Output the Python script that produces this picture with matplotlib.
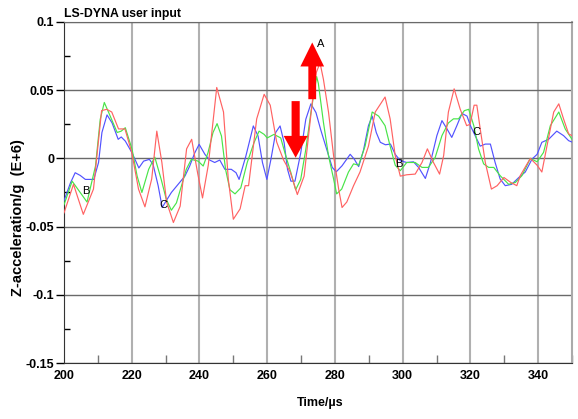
import matplotlib
matplotlib.use("Agg")
import matplotlib.pyplot as plt
from matplotlib.patches import FancyArrow
from matplotlib.ticker import MultipleLocator
import numpy as np

plt.rcParams['font.family'] = ['Liberation Sans Narrow', 'Liberation Sans', 'DejaVu Sans']

# ---- data ----
red_t = [200, 202.8, 205.7, 208.7, 211.1, 212.6, 214.1, 216.1, 218, 220,
         222, 223.9, 225.9, 227.4, 228.9, 230.3, 232.3, 234.3, 236.2, 237.7,
         239.4, 240.9, 242.6, 245.1, 247.1, 248.5, 250, 252, 253.5, 254.5,
         256.9, 259.1, 260.9, 262.8, 264.8, 266.8, 268.9, 270.9, 272.4, 273.4,
         274.5, 275.6, 276.6, 278.1, 279.6, 281.1, 282.1, 283.5, 285.5, 287.4,
         289.9, 291.9, 294.8, 296.3, 297.8, 299.3, 301.2, 303.7, 305.7, 307.3,
         309.1, 310.9, 312.1, 313.5, 315.2, 317, 318.9, 319.9, 321.1, 321.9,
         322.9, 324.4, 326.2, 327.9, 329.9, 331.9, 333.7, 334.7, 337.7, 339.7,
         341.1, 342.6, 344.6, 346.1, 347.5, 349, 350]
red_v = [-0.040, -0.019, -0.041, -0.0225, 0.035, 0.036, 0.034, 0.0216, 0.0216, 0.0044,
         -0.0225, -0.0355, -0.015, 0.020, -0.003, -0.032, -0.047, -0.035, 0.007, 0.014,
         -0.010, -0.029, -0.005, 0.052, 0.034, -0.015, -0.0446, -0.037, -0.020, -0.020,
         0.029, 0.047, 0.039, 0.012, -0.001, -0.010, -0.0265, -0.013, 0.021, 0.043,
         0.063, 0.070, 0.058, 0.034, 0.002, -0.0225, -0.036, -0.032, -0.020, -0.010,
         0.009, 0.034, 0.045, 0.029, 0.002, -0.013, -0.012, -0.0115, -0.003, 0.007,
         -0.003, -0.0115, 0.002, 0.034, 0.051, 0.036, 0.024, 0.025, 0.039, 0.039,
         0.0216, -0.003, -0.0225, -0.020, -0.014, -0.0176, -0.020, -0.0127, 0.0, -0.005,
         -0.010, 0.009, 0.034, 0.040, 0.029, 0.018, 0.0167]

green_t = [200, 202.4, 204.5, 206.8, 209.3, 210.7, 211.9, 213.2, 215.7, 216.9,
           218.1, 220.1, 221.6, 223, 225, 226.8, 228.7, 230.2, 231.7, 233.2,
           234.7, 236.1, 237.6, 239.6, 241.1, 242.5, 244, 245.2, 246.5, 247.7,
           249, 250.5, 252.2, 254.1, 256.1, 257.6, 259.1, 260, 262, 264,
           265.5, 267, 268.4, 269.9, 271.4, 272.9, 274.6, 275.1, 276.6, 278.1,
           279.6, 280.5, 282, 284, 285.5, 287, 288.9, 291, 292.9, 294.8,
           296.3, 297.8, 299.3, 301.2, 303.7, 305.7, 307.6, 309.6, 311.6, 313.5,
           315, 316.5, 318.2, 319.5, 321, 322.4, 323.9, 325.4, 326.9, 328.8,
           331.3, 333.3, 335.2, 337.7, 339.7, 341.6, 343.6, 346.1, 348, 350]
green_v = [-0.034, -0.0167, -0.024, -0.032, -0.0056, 0.0287, 0.041, 0.0336, 0.019, 0.020,
           0.0225, 0.0066, -0.013, -0.025, -0.008, 0.001, -0.0154, -0.030, -0.038, -0.0326,
           -0.020, -0.008, -0.0007, -0.002, -0.0056, 0.004, 0.019, 0.0255, 0.0164, -0.008,
           -0.023, -0.026, -0.0216, -0.003, 0.0115, 0.020, 0.0176, 0.015, 0.0176, 0.015,
           0.0017, -0.0105, -0.023, -0.0154, 0.0066, 0.0336, 0.060, 0.055, 0.0265, 0.002,
           -0.015, -0.026, -0.0225, -0.010, -0.004, -0.005, 0.009, 0.034, 0.031, 0.024,
           0.009, -0.005, -0.009, -0.003, -0.003, -0.0066, -0.0066, 0.0007, 0.0167, 0.026,
           0.029, 0.029, 0.035, 0.036, 0.024, 0.007, -0.004, -0.0066, -0.0066, -0.0127,
           -0.019, -0.0176, -0.0127, 0.0, -0.0025, 0.0044, 0.024, 0.034, 0.0216, 0.014]

blue_t = [200, 201.9, 203.3, 204.8, 206.3, 208.8, 210.2, 211.2, 212.7, 214.2,
          216, 216.9, 218.1, 220.1, 222.1, 223.5, 225.2, 226.3, 227.8, 229,
          230.2, 231.7, 233.7, 235.7, 237.1, 238.6, 239.9, 241.6, 243, 244.5,
          246, 247.5, 249.4, 250.8, 251.7, 253.7, 255.9, 257.3, 258.6, 259.9,
          261.1, 262.5, 263.8, 265, 266, 267, 268.2, 269.9, 271.4, 272.9,
          274.4, 275.8, 277.7, 279.2, 280.4, 282.1, 284.5, 285.7, 287, 288.4,
          289.9, 291, 292.2, 293.4, 294.9, 296.4, 297.8, 299.3, 301.2, 303.2,
          304.7, 306.7, 308.2, 310.1, 311.6, 313.1, 314.5, 316, 317.5, 319,
          320, 321.4, 322.9, 324.4, 325.9, 327.3, 328.8, 330.3, 332.2, 334.3,
          336.2, 338.2, 339.7, 341.1, 343.1, 345.5, 347.5, 349, 350]
blue_v = [-0.031, -0.018, -0.0105, -0.0125, -0.0154, -0.0154, -0.003, 0.019, 0.0319, 0.026,
          0.014, 0.0157, 0.0127, 0.004, -0.007, -0.002, -0.0007, -0.0044, -0.020, -0.036,
          -0.031, -0.025, -0.019, -0.013, -0.0057, 0.004, 0.0103, 0.003, -0.0012, -0.003,
          -0.0012, -0.008, -0.008, -0.0105, -0.0154, 0.0017, 0.0238, 0.0164, -0.003, -0.0154,
          -0.0007, 0.019, 0.0238, 0.0115, -0.008, -0.0167, -0.0167, 0.004, 0.0287, 0.040,
          0.0336, 0.021, 0.0056, -0.0066, -0.0098, -0.0054, 0.003, -0.0005, -0.006, 0.0056,
          0.024, 0.031, 0.019, 0.0118, 0.010, 0.0105, 0.003, -0.0017, -0.003, -0.0025,
          -0.0066, -0.0147, -0.003, 0.0167, 0.0277, 0.0216, 0.0154, 0.024, 0.033, 0.031,
          0.024, 0.0167, 0.009, 0.0105, 0.0105, -0.003, -0.0152, -0.020, -0.019, -0.014,
          -0.010, -0.0005, 0.003, 0.0118, 0.014, 0.020, 0.0167, 0.013, 0.012]

point_labels = ["B", "C", "A", "B", "C"]
point_t = [206.5, 229.5, 275.8, 298.8, 321.7]
point_v = [-0.024, -0.034, 0.084, -0.004, 0.019]

x_ticks = [200, 220, 240, 260, 280, 300, 320, 340]
y_ticks = [-0.15, -0.1, -0.05, 0, 0.05, 0.1]
y_tick_labels = ["-0.15", "-0.1", "-0.05", "0", "0.05", "0.1"]

# ---- figure ----
W, H = 578, 419
fig = plt.figure(figsize=(W / 100, H / 100), dpi=100)
ax = fig.add_axes([64 / W, 1 - 363 / H, 508 / W, 341 / H])

ax.plot(blue_t, blue_v, color='#5252ff', lw=0.85, zorder=3)
ax.plot(green_t, green_v, color='#48e448', lw=0.85, zorder=3)
ax.plot(red_t, red_v, color='#ff6262', lw=0.85, zorder=3)

ax.set_xlim(200, 350)
ax.set_ylim(-0.15, 0.1)
ax.set_xticks(x_ticks)
ax.set_xticklabels([str(v) for v in x_ticks])
ax.set_yticks(y_ticks)
ax.set_yticklabels(y_tick_labels)
ax.xaxis.set_minor_locator(MultipleLocator(10))
ax.yaxis.set_minor_locator(MultipleLocator(0.025))

ax.xaxis.grid(True, which='major', color='#b0b0b0', lw=1.5, zorder=1)
ax.yaxis.grid(True, which='major', color='#6a6a6a', lw=1.0, zorder=1)
ax.set_axisbelow(True)

ax.tick_params(axis='y', which='major', direction='out', length=6, width=1,
               labelsize=9, pad=1)
ax.tick_params(axis='y', which='minor', direction='in', length=4, width=1)
ax.tick_params(axis='x', which='major', direction='out', length=0,
               labelsize=9, pad=5)
ax.tick_params(axis='x', which='minor', direction='in', length=6, width=1,
               color='#777777')
for lab in ax.get_xticklabels() + ax.get_yticklabels():
    lab.set_fontweight('bold')

ax.spines['left'].set_color('#333333')
ax.spines['bottom'].set_color('#333333')
ax.spines['top'].set_color('#6a6a6a')
ax.spines['right'].set_color('#aaaaaa')
ax.spines['right'].set_linewidth(1.5)

for s, t, v in zip(point_labels, point_t, point_v):
    ax.text(t, v, s, fontsize=8, ha='center', va='center', color='black', zorder=6)

# red arrows
ax.add_patch(FancyArrow(273.3, 0.0434, 0, 0.0416, width=2.3, head_width=7.0,
                        head_length=0.0176, length_includes_head=True,
                        color='#ff0000', lw=0, zorder=5))
ax.add_patch(FancyArrow(268.4, 0.042, 0, -0.0415, width=2.4, head_width=7.1,
                        head_length=0.016, length_includes_head=True,
                        color='#ff0000', lw=0, zorder=5))

fig.text(64 / W, 1 - 14 / H, "LS-DYNA user input", fontsize=8.8, fontweight='bold',
         ha='left', va='center')
fig.text(320 / W, 1 - 403 / H, "Time/\u00b5s", fontsize=9, fontweight='bold',
         ha='center', va='center')
fig.text(18 / W, 1 - 218 / H, "Z-acceleration/g  (E+6)", fontsize=10.5,
         fontweight='bold', rotation=90, ha='center', va='center')

fig.savefig("out.png", dpi=100)
